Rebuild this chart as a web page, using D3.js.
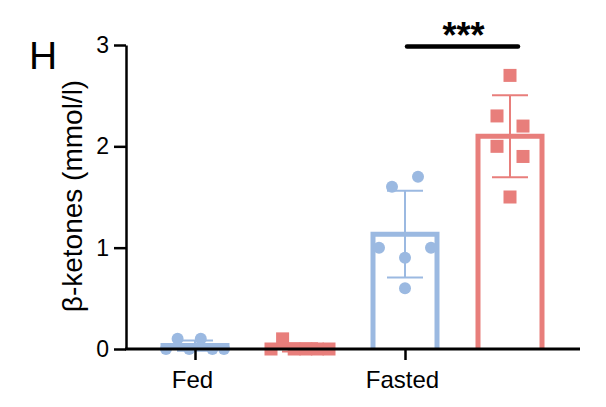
<!DOCTYPE html>
<html>
<head>
<meta charset="utf-8">
<script src="https://cdn.jsdelivr.net/npm/d3@7"></script>
<style>
  html, body { margin: 0; padding: 0; background: #fff; }
  svg { display: block; font-family: "Liberation Sans", Arial, sans-serif; }
</style>
</head>
<body>
<svg id="chart" width="606" height="407"></svg>
<script>
// β-ketone levels per animal, fed vs fasted, two genotypes
const conditions = ["Fed", "Fasted"];
const series = ["control", "treated"];
const controlValues = {
  Fed:    [0, 0.1, 0, 0.1, 0, 0],
  Fasted: [1.6, 1.7, 1.0, 0.9, 1.0, 0.6]
};
const treatedValues = {
  Fed:    [0, 0.1, 0, 0, 0, 0],
  Fasted: [2.7, 2.3, 2.2, 2.0, 1.9, 1.5]
};
const yTicks = [0, 1, 2, 3];
const panelLabel = "H";
const yTitle = "β-ketones (mmol/l)";
const significance = { condition: "Fasted", label: "***" };

const colors = { control: "#9bb9e1", treated: "#e87e7b" };
const FONT = "Liberation Sans, Arial, sans-serif";

const svg = d3.select("#chart");

const y = d3.scaleLinear().domain([0, 3]).range([349, 45]);
const xGroup = d3.scalePoint().domain(conditions).range([195, 405]);
const xSeries = d3.scalePoint().domain(series).range([0, 105]);

const xAxisLeft = 126, xAxisRight = 580;

const groups = [];
conditions.forEach(c => {
  groups.push({ cond: c, s: "control", vals: controlValues[c] });
  groups.push({ cond: c, s: "treated", vals: treatedValues[c] });
});

// Scatter layout: points close in value share a row and are spread horizontally
function layoutPoints(vals, marker) {
  const idx = vals.map((v, i) => i).sort((a, b) => vals[b] - vals[a]);
  const rows = [];
  idx.forEach(i => {
    const last = rows[rows.length - 1];
    if (last && Math.abs(y(vals[last[0]]) - y(vals[i])) < marker) last.push(i);
    else rows.push([i]);
  });
  const out = [];
  rows.forEach(r => {
    r.sort((a, b) => a - b);
    const n = r.length;
    const step = n > 1 ? Math.min(58 / (n - 1), 26) : 0;
    r.forEach((i, k) => out.push({ v: vals[i], dx: (k - (n - 1) / 2) * step }));
  });
  return out;
}

const barW = 64;
const g = svg.append("g");

groups.forEach(gr => {
  const cx = xGroup(gr.cond) + xSeries(gr.s);
  const m = d3.mean(gr.vals), s = d3.deviation(gr.vals);
  const col = colors[gr.s];

  // bar outline
  g.append("path")
    .attr("d", `M${cx - barW / 2},${y(0)} V${y(m)} H${cx + barW / 2} V${y(0)}`)
    .attr("fill", "none")
    .attr("stroke", col)
    .attr("stroke-width", 5);

  // SD error bar
  g.append("line")
    .attr("x1", cx).attr("x2", cx)
    .attr("y1", y(Math.max(0, m - s))).attr("y2", y(m + s))
    .attr("stroke", col).attr("stroke-width", 2);
  [m + s, m - s].forEach(v => {
    g.append("line")
      .attr("x1", cx - 18).attr("x2", cx + 18)
      .attr("y1", y(v)).attr("y2", y(v))
      .attr("stroke", col).attr("stroke-width", 2);
  });

  // individual animals
  const marker = gr.s === "control" ? 12 : 13;
  const pts = layoutPoints(gr.vals, marker);
  if (gr.s === "control") {
    g.selectAll(null).data(pts).enter().append("circle")
      .attr("cx", d => cx + d.dx).attr("cy", d => y(d.v))
      .attr("r", 6).attr("fill", col);
  } else {
    g.selectAll(null).data(pts).enter().append("rect")
      .attr("x", d => cx + d.dx - 6.5).attr("y", d => y(d.v) - 6.5)
      .attr("width", 13).attr("height", 13).attr("fill", col);
  }
});

// y axis
const yAxis = svg.append("g")
  .attr("transform", `translate(${xAxisLeft},0)`)
  .call(d3.axisLeft(y).tickValues(yTicks).tickFormat(d3.format("d")).tickSize(12).tickSizeOuter(0).tickPadding(5));
yAxis.attr("font-size", null).attr("font-family", null);
yAxis.select(".domain").attr("stroke", "#000").attr("stroke-width", 2.5);
yAxis.selectAll(".tick line").attr("stroke", "#000").attr("stroke-width", 2.5);
yAxis.selectAll(".tick text")
  .style("font-size", "23px").style("font-family", FONT).attr("fill", "#000");

// x axis baseline and ticks
svg.append("line")
  .attr("x1", xAxisLeft - 1).attr("x2", xAxisRight)
  .attr("y1", y(0)).attr("y2", y(0))
  .attr("stroke", "#000").attr("stroke-width", 3);
const xAxis = svg.append("g")
  .attr("transform", `translate(0,${y(0)})`)
  .call(d3.axisBottom(xGroup).tickSize(11).tickSizeOuter(0).tickPadding(11));
xAxis.attr("font-size", null).attr("font-family", null);
xAxis.select(".domain").remove();
xAxis.selectAll(".tick line").attr("stroke", "#000").attr("stroke-width", 2.5);
xAxis.selectAll(".tick text")
  .attr("dx", -3)
  .style("font-size", "24px").style("font-family", FONT).attr("fill", "#000");

// y axis title
svg.append("text")
  .attr("transform", `translate(82,196) rotate(-90)`)
  .attr("text-anchor", "middle")
  .style("font-size", "28px")
  .text(yTitle);

// panel label
svg.append("text")
  .attr("x", 29).attr("y", 69)
  .style("font-size", "39px")
  .text(panelLabel);

// significance bracket
const sx1 = xGroup(significance.condition) + xSeries("control");
const sx2 = xGroup(significance.condition) + xSeries("treated");
svg.append("line")
  .attr("x1", sx1 + 2).attr("x2", sx2 + 8)
  .attr("y1", 46.5).attr("y2", 46.5)
  .attr("stroke", "#000").attr("stroke-width", 4.5).attr("stroke-linecap", "round");
svg.append("text")
  .attr("x", (sx1 + sx2) / 2 + 6).attr("y", 48)
  .attr("text-anchor", "middle")
  .style("font-size", "36px").style("font-weight", "bold")
  .text(significance.label);
</script>
</body>
</html>
